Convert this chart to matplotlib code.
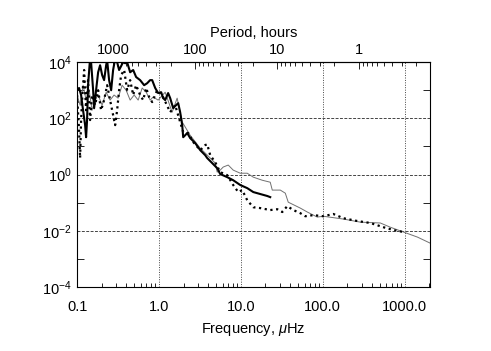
import numpy as np
import matplotlib
matplotlib.use("Agg")
import matplotlib.pyplot as plt
from matplotlib.ticker import FixedLocator, NullFormatter, LogLocator, FixedFormatter

plt.rcParams['font.family'] = ['Liberation Sans', 'DejaVu Sans']
plt.rcParams['mathtext.fontset'] = 'custom'
plt.rcParams['mathtext.rm'] = 'Liberation Sans'
plt.rcParams['mathtext.it'] = 'Liberation Sans:italic'

# ---- data (log10 frequency in microHz, log10 power) ----
thick_logf = [-1.00, -0.976, -0.951, -0.927, -0.902, -0.890, -0.878, -0.866, -0.841, -0.829,
              -0.804, -0.792, -0.768, -0.743, -0.719, -0.694, -0.670, -0.645, -0.633, -0.609,
              -0.584, -0.560, -0.535, -0.511, -0.487, -0.462, -0.438, -0.413, -0.389, -0.352,
              -0.315, -0.279, -0.230, -0.181, -0.144, -0.108, -0.083, -0.046, -0.010, 0.027,
              0.051, 0.076, 0.112, 0.137, 0.174, 0.198, 0.235, 0.259, 0.284, 0.296,
              0.320, 0.345, 0.381, 0.443, 0.504, 0.565, 0.589, 0.650, 0.711, 0.748,
              0.834, 0.907, 0.993, 1.078, 1.152, 1.237, 1.323, 1.359]
thick_logp = [3.00, 3.08, 2.83, 2.29, 1.76, 1.33, 1.94, 3.18, 4.15, 4.00,
              3.00, 2.36, 3.00, 3.64, 3.89, 3.54, 3.36, 3.89, 4.07, 3.36,
              3.00, 3.72, 4.12, 4.00, 3.72, 3.86, 4.00, 3.96, 4.00, 3.64,
              3.72, 3.47, 3.36, 3.18, 3.25, 3.36, 3.36, 3.08, 2.90, 2.93,
              2.72, 2.65, 2.90, 2.72, 2.36, 2.44, 2.54, 2.22, 1.76, 1.33,
              1.40, 1.48, 1.30, 1.12, 0.87, 0.69, 0.59, 0.41, 0.23, 0.02,
              -0.09, -0.20, -0.37, -0.48, -0.62, -0.69, -0.76, -0.80]

thin_logf = [-1.00, -0.963, -0.927, -0.890, -0.853, -0.817, -0.780, -0.743, -0.694, -0.645,
             -0.597, -0.548, -0.499, -0.450, -0.401, -0.352, -0.303, -0.254, -0.205, -0.156,
             -0.108, -0.071, -0.010, 0.076, 0.161, 0.222, 0.284, 0.381, 0.504, 0.626,
             0.687, 0.711, 0.748, 0.785, 0.846, 0.907, 0.993, 1.078, 1.152, 1.262,
             1.359, 1.384, 1.482, 1.543, 1.579, 1.726, 1.812, 1.934, 2.007, 2.252,
             2.460, 2.704, 2.826, 2.985, 3.156, 3.315]
thin_logp = [2.83, 2.47, 3.18, 2.65, 3.00, 2.29, 2.65, 2.83, 2.47, 2.93,
             2.65, 2.83, 2.72, 3.18, 3.00, 2.65, 2.83, 2.65, 3.08, 2.93,
             2.65, 2.76, 2.65, 2.93, 2.22, 2.72, 1.87, 1.40, 0.94, 0.59,
             0.41, 0.09, 0.16, 0.27, 0.34, 0.16, 0.05, 0.05, -0.09, -0.20,
             -0.27, -0.55, -0.55, -0.66, -0.98, -1.19, -1.33, -1.51, -1.48, -1.58,
             -1.69, -1.72, -1.87, -2.04, -2.22, -2.44]

dot_logf = [-1.00, -0.976, -0.963, -0.951, -0.939, -0.914, -0.890, -0.866, -0.841, -0.817,
            -0.780, -0.743, -0.707, -0.670, -0.633, -0.597, -0.560, -0.535, -0.511, -0.487,
            -0.462, -0.425, -0.389, -0.352, -0.315, -0.279, -0.230, -0.193, -0.156, -0.120,
            -0.083, -0.022, 0.039, 0.137, 0.198, 0.259, 0.296, 0.357, 0.418, 0.504,
            0.565, 0.589, 0.626, 0.687, 0.748, 0.834, 0.907, 0.968, 1.017, 1.078,
            1.152, 1.237, 1.359, 1.445, 1.506, 1.567, 1.641, 1.726, 1.787, 1.885,
            2.007, 2.130, 2.252, 2.423, 2.582, 2.741, 2.863, 2.985]
dot_logp = [2.83, 1.58, 0.59, 1.94, 2.65, 3.72, 2.29, 3.36, 1.94, 2.83,
            2.47, 3.00, 2.29, 2.65, 3.18, 2.65, 2.12, 1.76, 2.29, 3.00,
            3.54, 3.72, 3.00, 3.36, 2.83, 3.18, 2.83, 2.65, 3.08, 2.76,
            2.58, 3.00, 2.83, 2.22, 2.47, 1.87, 1.51, 1.48, 1.16, 0.87,
            1.05, 1.08, 0.69, 0.44, 0.09, -0.02, -0.37, -0.62, -0.55, -0.91,
            -1.16, -1.19, -1.26, -1.23, -1.33, -1.12, -1.26, -1.37, -1.48, -1.44,
            -1.48, -1.40, -1.55, -1.65, -1.72, -1.87, -1.97, -2.04]

x_tick_vals = [0.1, 1.0, 10.0, 100.0, 1000.0]
x_tick_labels = ['0.1', '1.0', '10.0', '100.0', '1000.0']
y_tick_vals = [1e-4, 1e-2, 1e0, 1e2, 1e4]
y_tick_labels = ['10$^{-4}$', '10$^{-2}$', '10$^{0}$', '10$^{2}$', '10$^{4}$']
period_tick_vals = [1000, 100, 10, 1]
period_tick_labels = ['1000', '100', '10', '1']

fig = plt.figure(figsize=(4.91, 3.51), dpi=100)
ax = fig.add_axes([0.157, 0.182, 0.719, 0.641])

ax.plot(10 ** np.array(thin_logf), 10 ** np.array(thin_logp), color='#707070', lw=0.7)
ax.plot(10 ** np.array(dot_logf), 10 ** np.array(dot_logp), color='black', lw=1.6,
        ls=(0, (1, 1.6)))
ax.plot(10 ** np.array(thick_logf), 10 ** np.array(thick_logp), color='black', lw=1.5)

ax.set_xscale('log')
ax.set_yscale('log')
ax.set_xlim(0.1, 2050)
ax.set_ylim(1e-4, 1e4)

ax.xaxis.set_major_locator(FixedLocator(x_tick_vals))
ax.xaxis.set_major_formatter(FixedFormatter(x_tick_labels))
ax.xaxis.set_minor_locator(LogLocator(base=10, subs=np.arange(2, 10)))
ax.xaxis.set_minor_formatter(NullFormatter())
ax.yaxis.set_major_locator(FixedLocator(y_tick_vals))
ax.yaxis.set_major_formatter(FixedFormatter(y_tick_labels))
ax.yaxis.set_minor_locator(FixedLocator([1e-3, 1e-1, 1e1, 1e3]))
ax.yaxis.set_minor_formatter(NullFormatter())

ax.tick_params(axis='x', which='both', direction='in', top=False, bottom=True,
               labelsize=10.5, pad=9)
ax.tick_params(axis='x', which='major', length=0)
ax.tick_params(axis='x', which='minor', length=3, width=0.6)
ax.tick_params(axis='y', which='both', direction='in', left=True, right=True,
               labelsize=10.5, pad=4)
ax.tick_params(axis='y', which='major', length=0)
ax.tick_params(axis='y', which='minor', length=5, width=0.6)

ax.xaxis.grid(True, which='major', color='#444444', ls=(0, (1, 1.5)), lw=0.7)
ax.yaxis.grid(True, which='major', color='#444444', ls=(0, (3, 1.5)), lw=0.7)

for s in ax.spines.values():
    s.set_linewidth(0.8)

ax.set_xlabel('Frequency, $\\mu$Hz', fontsize=10.5, labelpad=5)

def f2p(f):
    f = np.asarray(f, dtype=float)
    with np.errstate(divide='ignore'):
        return 277.7778 / f

sec = ax.secondary_xaxis('top', functions=(f2p, f2p))
sec.xaxis.set_major_locator(FixedLocator(period_tick_vals))
sec.xaxis.set_major_formatter(FixedFormatter(period_tick_labels))
sec.xaxis.set_minor_locator(LogLocator(base=10, subs=np.arange(2, 10)))
sec.xaxis.set_minor_formatter(NullFormatter())
sec.tick_params(axis='x', which='both', direction='in', labelsize=10.5, pad=4)
sec.tick_params(axis='x', which='major', length=5, width=0.6)
sec.tick_params(axis='x', which='minor', length=3, width=0.6)
sec.set_xlabel('Period, hours', fontsize=10.5, labelpad=4)
sec.spines['top'].set_linewidth(0.8)

fig.savefig('out.png', dpi=100)
